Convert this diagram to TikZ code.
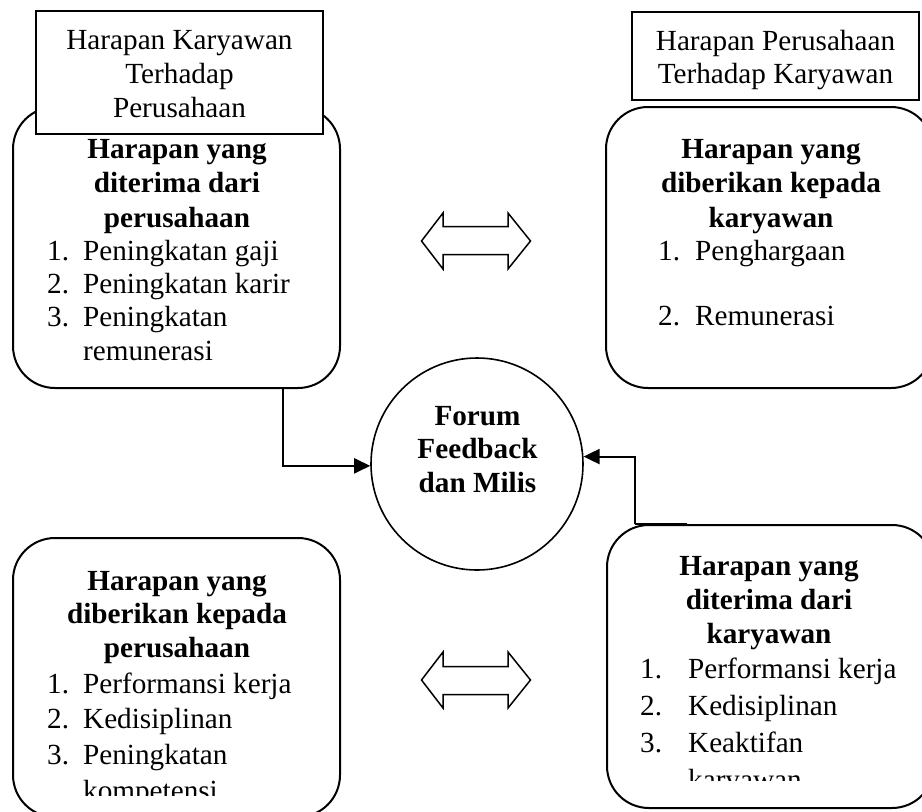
\documentclass[tikz,border=0pt]{standalone}
\usepackage{fontspec}
\setmainfont{Liberation Serif}
\usetikzlibrary{arrows.meta}
\newcommand{\firststrut}{\rule{0pt}{22pt}}
\newcommand{\numbox}[2]{\makebox[#1][l]{#2}}
\begin{document}
\begin{tikzpicture}[x=1pt,y=-1pt,
  rbox/.style={draw, line width=2pt, rounded corners=42pt, inner sep=0pt, fill=white},
  hdr/.style={draw, line width=1.6pt, fill=white, inner sep=0pt},
  txt/.style={inner sep=0pt, font=\fontsize{29.2}{#1}\selectfont},
  bold/.style={inner sep=0pt, font=\fontsize{29.2}{#1}\selectfont\bfseries, align=center, anchor=north},
  conn/.style={line width=2pt, -{Triangle[length=16pt,width=15pt]}},
  dbl/.style={draw, line width=1.5pt, line join=miter}
]
\useasboundingbox (0,0) rectangle (922,812);

% rounded boxes
\node[rbox, minimum width=327pt, minimum height=281pt] (tl) at (176.5,247.5) {};
\node[rbox, minimum width=327pt, minimum height=281pt] (tr) at (769.5,247.5) {};
\node[rbox, minimum width=327pt, minimum height=279pt] (bl) at (176.5,677.5) {};
\node[rbox, minimum width=327pt, minimum height=283pt] (br) at (770.5,666.5) {};

% header rectangles
\node[hdr, minimum width=287pt, minimum height=123pt] (tlh) at (179.5,72.5) {};
\node[hdr, minimum width=287pt, minimum height=88pt] (trh) at (775.5,56) {};

% header texts
\node[txt=34, align=center, anchor=north] (tlht) at (179.5,27)
  {\firststrut Harapan Karyawan\\Terhadap\\Perusahaan};
\node[txt=33, align=center, anchor=north] (trht) at (775.5,28)
  {\firststrut Harapan Perusahaan\\Terhadap Karyawan};

% top-left contents
\node[bold=34.5] (tlb) at (177,136)
  {\firststrut Harapan yang\\diterima dari\\perusahaan};
\node[txt=33.3, align=left, anchor=north west] (tll) at (47,238)
  {\firststrut\numbox{36pt}{1.}Peningkatan gaji\\
   \numbox{36pt}{2.}Peningkatan karir\\
   \numbox{36pt}{3.}Peningkatan\\
   \numbox{36pt}{}remunerasi};

% top-right contents
\node[bold=34.5] (trb) at (771,136)
  {\firststrut Harapan yang\\diberikan kepada\\karyawan};
\node[txt=33, align=left, anchor=north west] (trl) at (658,238)
  {\firststrut\numbox{37pt}{1.}Penghargaan\\[32pt]
   \numbox{37pt}{2.}Remunerasi};

% bottom-left contents
\node[bold=33.5] (blb) at (177,568)
  {\firststrut Harapan yang\\diberikan kepada\\perusahaan};
\begin{scope}
\clip (0,0) rectangle (922,795);
\node[txt=35.7, align=left, anchor=north west] (bll) at (47,671)
  {\firststrut\numbox{36pt}{1.}Performansi kerja\\
   \numbox{36pt}{2.}Kedisiplinan\\
   \numbox{36pt}{3.}Peningkatan\\
   \numbox{36pt}{}kompetensi};
\end{scope}

% bottom-right contents
\node[bold=34] (brb) at (769,553)
  {\firststrut Harapan yang\\diterima dari\\karyawan};
\begin{scope}
\clip (0,0) rectangle (922,780);
\node[txt=37, align=left, anchor=north west] (brl) at (640,656)
  {\firststrut\numbox{48pt}{1.}Performansi kerja\\
   \numbox{48pt}{2.}Kedisiplinan\\
   \numbox{48pt}{3.}Keaktifan\\
   \numbox{48pt}{}karyawan};
\end{scope}

% central circle
\node[draw, circle, line width=1.6pt, minimum size=212pt, inner sep=0pt] (forum) at (477,464) {};
\node[bold=33.5] (forumt) at (477.5,403)
  {\firststrut Forum\\Feedback\\dan Milis};

% double arrows
\path[dbl] (421.5,241) -- (443,213) -- (443,226.5) -- (508,226.5) -- (508,213)
  -- (530.5,241) -- (508,269) -- (508,254.5) -- (443,254.5) -- (443,269) -- cycle;
\path[dbl] (421.5,680) -- (443,652) -- (443,666.5) -- (508,666.5) -- (508,652)
  -- (530.5,680) -- (508,708) -- (508,694.5) -- (443,694.5) -- (443,708) -- cycle;

% connectors
\draw[conn] ([xshift=106.5pt]tl.south) |- (forum.181);
\draw[line width=2pt] ([xshift=-83.5pt]br.north) -- ([xshift=-135.5pt]br.north);
\draw[conn] ([xshift=-135.5pt]br.north) |- (forum.4);
\end{tikzpicture}
\end{document}
